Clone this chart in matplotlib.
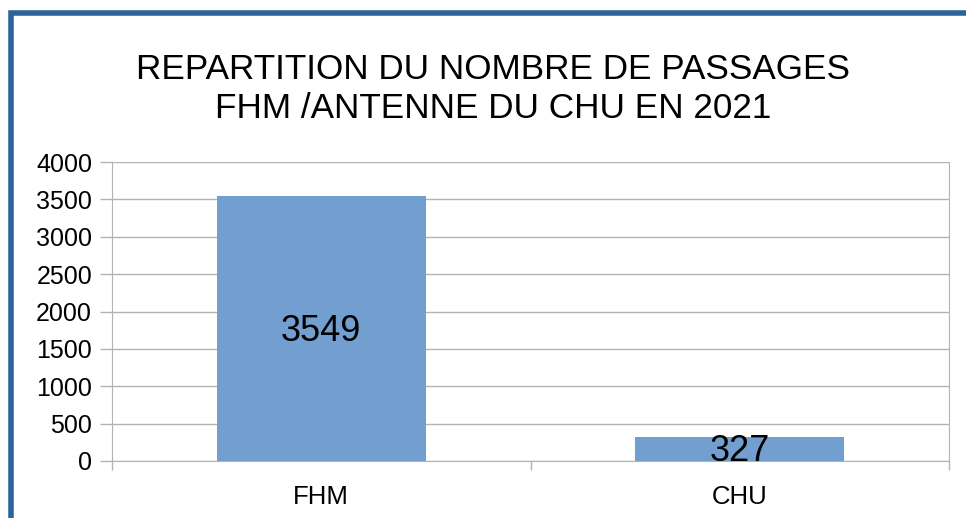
import matplotlib.pyplot as plt
from matplotlib.patches import Rectangle
from matplotlib.ticker import FixedLocator

categories = ['FHM', 'CHU']
passages = [3549, 327]
yticks = [0, 500, 1000, 1500, 2000, 2500, 3000, 3500, 4000]

plt.rcParams['font.family'] = ['Liberation Sans', 'DejaVu Sans']

W, H = 966, 518
fig = plt.figure(figsize=(W / 100, H / 100), dpi=100)

# blue frame around the chart (runs off the right and bottom edges)
fig.patches.append(Rectangle((11 / W, -0.1), 1.2, 1 - 13 / H + 0.1,
                             transform=fig.transFigure, fill=False,
                             edgecolor='#2e6399', linewidth=4))

ax = fig.add_axes([112 / W, 1 - 461 / H, (949 - 112) / W, (461 - 162) / H])
x = list(range(len(categories)))
bars = ax.bar(x, passages, width=0.5, color='#729fcf', zorder=3)
labels = ax.bar_label(bars, label_type='center', fontsize=26, color='black')
for t in labels:
    t.set_y(-2)  # nudge down a couple of points

ax.set_xlim(-0.5, 1.5)
ax.set_ylim(0, 4000)
ax.set_yticks(yticks)
ax.set_xticks(x)
ax.set_xticklabels(categories, fontsize=18.5)
ax.xaxis.set_minor_locator(FixedLocator([-0.5, 0.5, 1.5]))
ax.tick_params(axis='x', which='major', length=0, pad=17)
ax.tick_params(axis='x', which='minor', length=6.5, width=1, color='#b3b3b3')
ax.tick_params(axis='y', length=8.6, width=1, color='#b3b3b3', pad=5.8,
               labelsize=18)
ax.yaxis.grid(True, color='#b3b3b3', linewidth=1, zorder=0)
ax.set_axisbelow(True)
for side in ['left', 'right', 'bottom']:
    ax.spines[side].set_color('#b3b3b3')
ax.spines['top'].set_visible(False)

fig.text(493 / W, 1 - 89 / H,
         'REPARTITION DU NOMBRE DE PASSAGES\nFHM /ANTENNE DU CHU EN 2021',
         ha='center', va='center', fontsize=25.3, linespacing=1.22)

fig.savefig('out.png', dpi=100)
